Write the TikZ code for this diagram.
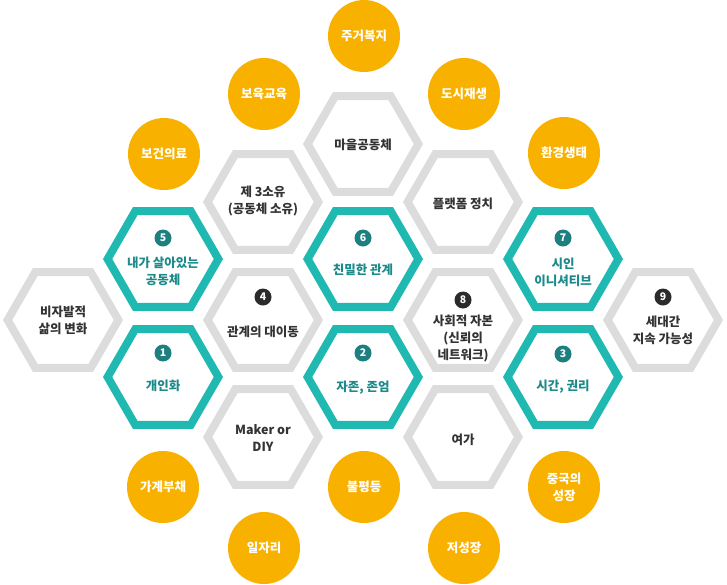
\documentclass[tikz,border=0pt]{standalone}
\usepackage{fontspec}
\setmainfont{Noto Sans CJK KR}
\definecolor{tealline}{HTML}{20B9B1}
\definecolor{tealtext}{HTML}{1C8A8A}
\definecolor{tealbadge}{HTML}{1E7F80}
\definecolor{grayline}{HTML}{DCDCDC}
\definecolor{darktext}{HTML}{333333}
\definecolor{darkbadge}{HTML}{2B2B2B}
\definecolor{orangefill}{HTML}{F9B100}
\tikzset{
  hexteal/.style={draw=tealline, line width=8pt, line join=miter},
  hexgray/.style={draw=grayline, line width=8pt, line join=miter},
  graylabel/.style={font=\bfseries\fontsize{12.5}{17}\selectfont, text=darktext, align=center, inner sep=0pt},
  teallabel/.style={font=\bfseries\fontsize{12.5}{17}\selectfont, text=tealtext, align=center, inner sep=0pt},
  badgeteal/.style={circle, fill=tealbadge, text=white, minimum size=17pt, inner sep=0pt, font=\bfseries\fontsize{10.5}{12}\selectfont},
  badgedark/.style={circle, fill=darkbadge, text=white, minimum size=17pt, inner sep=0pt, font=\bfseries\fontsize{10.5}{12}\selectfont},
  topic/.style={circle, fill=orangefill, text=white, minimum size=72pt, inner sep=0pt, align=center, font=\bfseries\fontsize{12.5}{17}\selectfont}
}
\newcommand{\hexat}[3]{\path[#1] (#2,#3) +(0:55.4) -- +(60:55.4) -- +(120:55.4) -- +(180:55.4) -- +(240:55.4) -- +(300:55.4) -- cycle;}
\begin{document}
\begin{tikzpicture}[x=1pt,y=-1pt]
\useasboundingbox (0,0) rectangle (727,584);
% hexagons
\hexat{hexgray}{63}{320}
\hexat{hexteal}{163}{259}
\hexat{hexteal}{163}{377}
\hexat{hexgray}{263}{202}
\hexat{hexgray}{263}{320}
\hexat{hexgray}{263}{437}
\hexat{hexgray}{363}{144}
\hexat{hexteal}{363}{259}
\hexat{hexteal}{363}{377}
\hexat{hexgray}{463}{202}
\hexat{hexgray}{463}{320}
\hexat{hexgray}{463}{437}
\hexat{hexteal}{563}{259}
\hexat{hexteal}{563}{377}
\hexat{hexgray}{663}{320}
% labels
\node[graylabel] (l0) at (63,320) {비자발적\\삶의 변화};
\node[badgeteal] (b5) at (163,238) {5};
\node[teallabel] (l5) at (163,271.5) {내가 살아있는\\공동체};
\node[badgeteal] (b1) at (163,353) {1};
\node[teallabel] (l1) at (163,386) {개인화};
\node[graylabel] (l3own) at (263,201) {제 3소유\\(공동체 소유)};
\node[badgedark] (b4) at (263,297) {4};
\node[graylabel] (l4) at (263,332) {관계의 대이동};
\node[graylabel] (lmk) at (263,438) {Maker or\\DIY};
\node[graylabel] (lvil) at (363,145) {마을공동체};
\node[badgeteal] (b6) at (363,238) {6};
\node[teallabel] (l6) at (363,270) {친밀한 관계};
\node[badgeteal] (b2) at (363,353) {2};
\node[teallabel] (l2) at (363,388) {자존, 존엄};
\node[graylabel] (lplat) at (463,204) {플랫폼 정치};
\node[badgedark] (b8) at (463,300) {8};
\node[graylabel] (l8) at (463,339) {사회적 자본\\(신뢰의\\네트워크)};
\node[graylabel] (lfree) at (463,440) {여가};
\node[badgeteal] (b7) at (563,238) {7};
\node[teallabel] (l7) at (563,272) {시인\\이니셔티브};
\node[badgeteal] (b3) at (563,354) {3};
\node[teallabel] (l3) at (563,387) {시간, 권리};
\node[badgedark] (b9) at (663,297) {9};
\node[graylabel] (l9) at (663,330.5) {세대간\\지속 가능성};
% orange topic circles
\node[topic] (c1) at (364,36) {주거복지};
\node[topic] (c2) at (264,94) {보육교육};
\node[topic] (c3) at (464,94) {도시재생};
\node[topic] (c4) at (164,154) {보건의료};
\node[topic] (c5) at (564,153) {환경생태};
\node[topic] (c6) at (163,487) {가계부채};
\node[topic] (c7) at (264,548) {일자리};
\node[topic] (c8) at (364,487) {불평등};
\node[topic] (c9) at (464,548) {저성장};
\node[topic] (c10) at (564,487) {중국의\\성장};
\end{tikzpicture}
\end{document}
